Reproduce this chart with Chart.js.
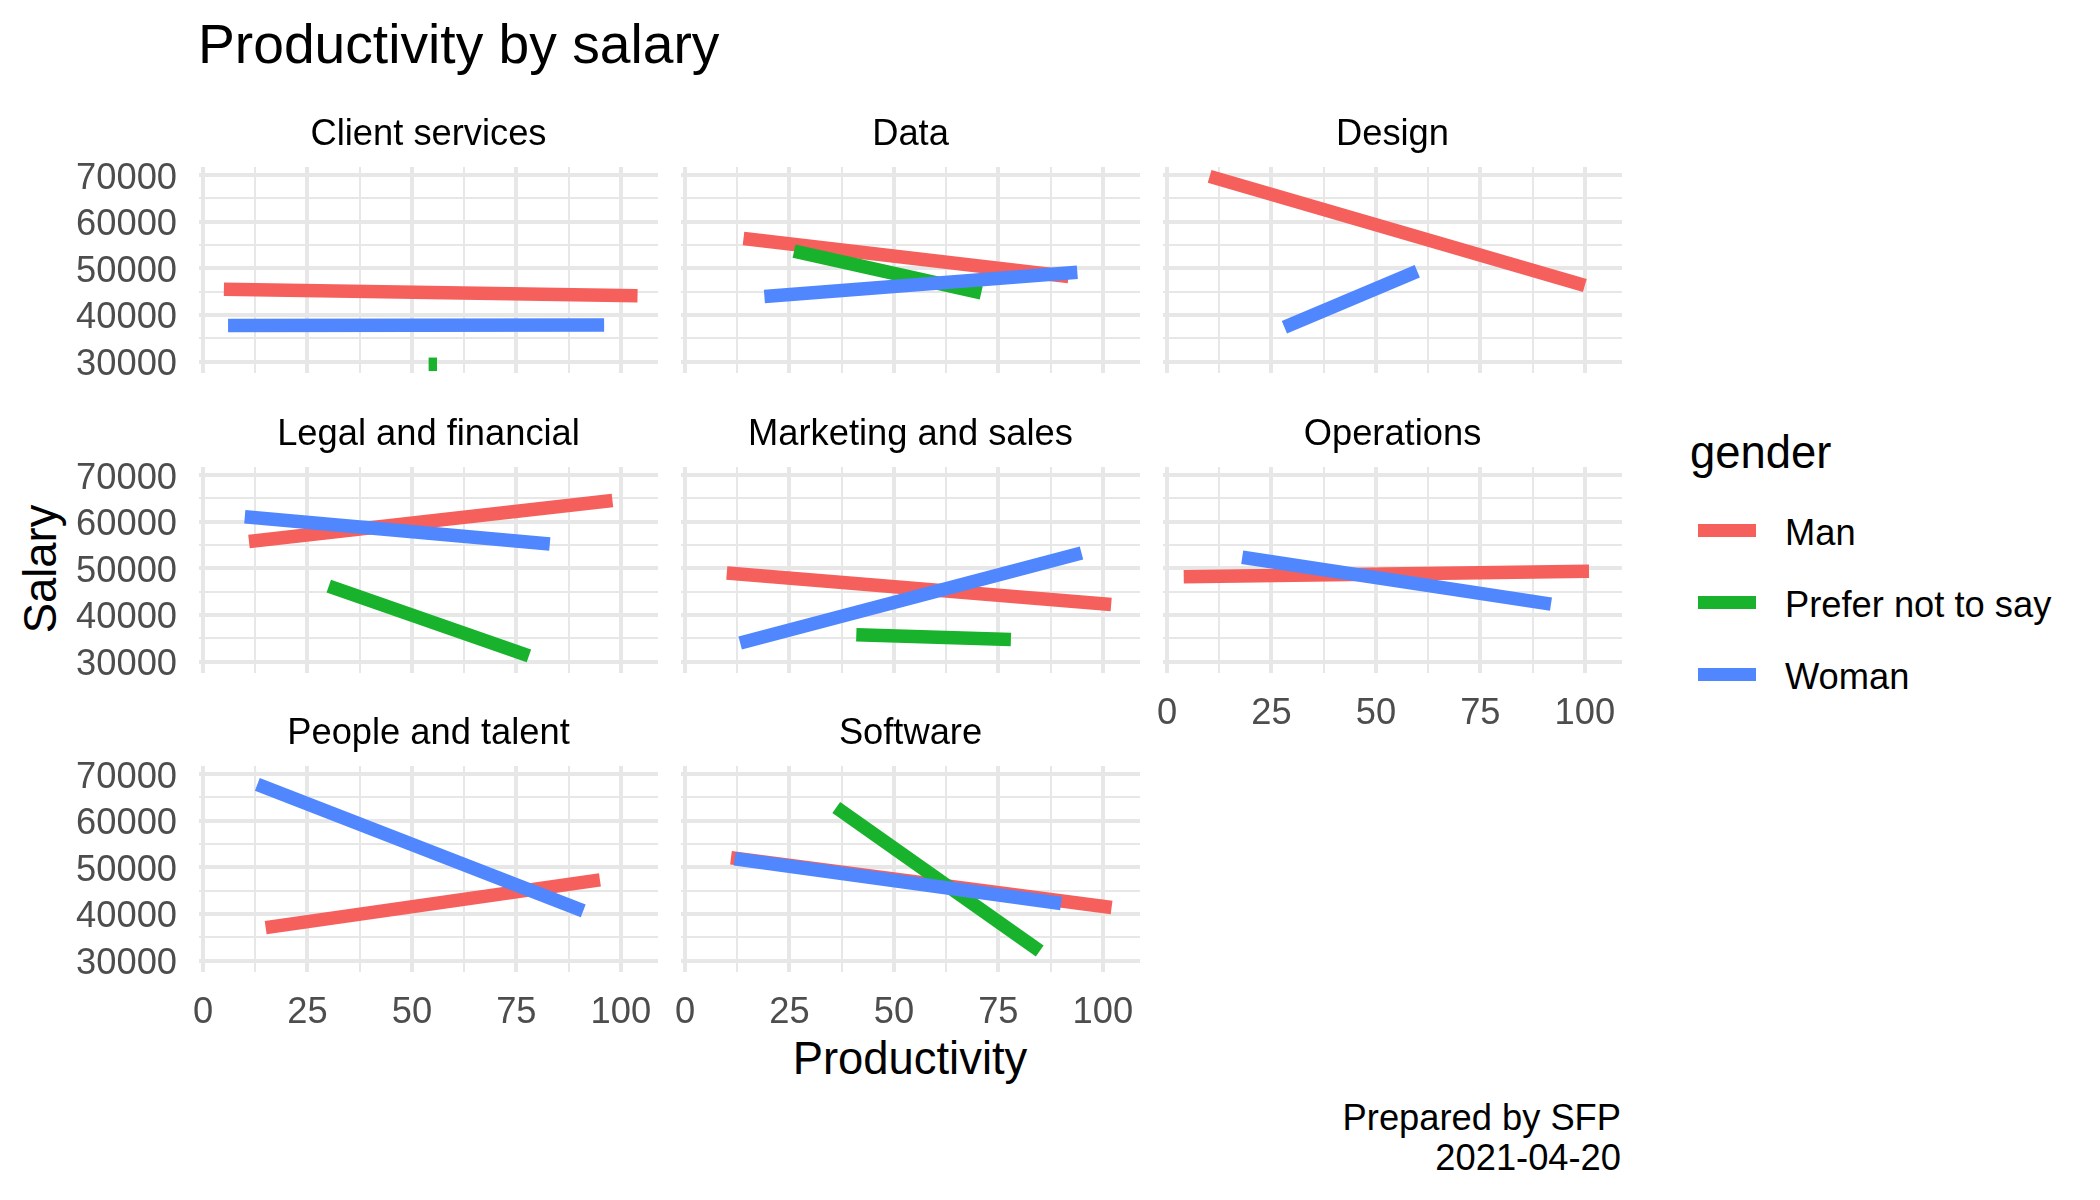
<!DOCTYPE html>
<html>
<head>
<meta charset="utf-8">
<title>Productivity by salary</title>
<script src="https://cdn.jsdelivr.net/npm/chart.js@4"></script>
<style>
  html, body { margin: 0; padding: 0; background: #fff; }
  body { position: relative; width: 2100px; height: 1200px; overflow: hidden; font-family: "Liberation Sans", Arial, sans-serif; }
  canvas { position: absolute; }
  .txt { position: absolute; line-height: 0; white-space: nowrap; color: #000; }
  .swatch { position: absolute; width: 58px; height: 13px; }
</style>
</head>
<body>
<script>
const departments = ['Client services', 'Data', 'Design', 'Legal and financial', 'Marketing and sales', 'Operations', 'People and talent', 'Software'];
const genders = ['Man', 'Prefer not to say', 'Woman'];
const genderColors = ['#F5605C', '#19B22D', '#5087FF'];

// line ends per department, null = no line for that group
const manProductivity = [[5, 104], [14, 91.8], [10.2, 100], [11, 98], [10, 102], [4, 101], [15, 95], [11, 102.1]];
const manSalary = [[45530, 44100], [56400, 48250], [69710, 46320], [55740, 64550], [49000, 42260], [48210, 49360], [37080, 47320], [52040, 41380]];
const otherProductivity = [[54, 56], [26.1, 70.9], null, [30.1, 78], [41, 78], null, null, [36.2, 84.9]];
const otherSalary = [[29430, 29430], [53690, 44740], null, [46200, 31220], [35740, 34730], null, null, [62840, 32080]];
const womanProductivity = [[6, 96], [19, 93.9], [28.1, 59.9], [10, 83], [13.2, 94.9], [18, 91.9], [13, 91], [11.9, 90]];
const womanSalary = [[37730, 37870], [43950, 49180], [37370, 49390], [61040, 55230], [34010, 53300], [52370, 42330], [67780, 40660], [51830, 42240]];

const xLabels = [0, 25, 50, 75, 100];
const yLabels = [30000, 40000, 50000, 60000, 70000];
const xGridValues = [0, 12.5, 25, 37.5, 50, 62.5, 75, 87.5, 100];
const yGridValues = [30000, 35000, 40000, 45000, 50000, 55000, 60000, 65000, 70000];

const FONT = '"Liberation Sans", Arial, sans-serif';
const SMALL = 36.3, MEDIUM = 45.4, LARGE = 55.2;
const GRID = '#E7E7E7', TICK_TEXT = '#4D4D4D';

const panelLefts = [199, 681, 1163];
const panelTops = [167, 467, 766];
const PANEL_W = 459, PANEL_H = 206;
const LEFT_W = 130, TITLE_H = 57, BOTTOM_H = 60;
const Y_LABEL_SHIFT = 3.5;

function points(xs, ys) {
  return xs.map((x, i) => ({ x: x, y: ys[i] }));
}

function makeDatasets(i) {
  const sets = [
    [manProductivity[i], manSalary[i]],
    [otherProductivity[i], otherSalary[i]],
    [womanProductivity[i], womanSalary[i]]
  ];
  const out = [];
  sets.forEach((s, g) => {
    if (!s[0]) return;
    out.push({
      label: genders[g],
      data: points(s[0], s[1]),
      borderColor: genderColors[g],
      borderWidth: 13.5,
      borderCapStyle: 'butt',
      pointRadius: 0,
      order: 3 - g
    });
  });
  return out;
}

function drawPanel(i) {
  const col = i % 3;
  const row = Math.floor(i / 3);
  const showX = i >= 5;
  const showY = col === 0;

  const canvas = document.createElement('canvas');
  canvas.width = LEFT_W + PANEL_W + 10;
  canvas.height = TITLE_H + PANEL_H + BOTTOM_H;
  canvas.style.left = (panelLefts[col] - LEFT_W) + 'px';
  canvas.style.top = (panelTops[row] - TITLE_H) + 'px';
  document.body.appendChild(canvas);

  new Chart(canvas.getContext('2d'), {
    type: 'line',
    data: { datasets: makeDatasets(i) },
    options: {
      responsive: false,
      animation: false,
      devicePixelRatio: 1,
      layout: { autoPadding: false, padding: { right: 10 } },
      plugins: {
        legend: { display: false },
        tooltip: { enabled: false },
        title: {
          display: true,
          text: departments[i],
          color: '#000',
          fullSize: false,
          font: { family: FONT, size: SMALL, weight: 'normal', lineHeight: 1.2 },
          padding: { top: 3, bottom: TITLE_H - 3 - SMALL * 1.2 }
        }
      },
      scales: {
        x: {
          type: 'linear',
          min: -0.96,
          max: 108.9,
          afterBuildTicks: s => { s.ticks = xGridValues.map(v => ({ value: v })); },
          afterFit: s => {
            s.height = BOTTOM_H;
            s.paddingLeft = 0;
            s.paddingRight = 0;
          },
          border: { display: false },
          grid: {
            color: GRID,
            drawTicks: false,
            lineWidth: c => (xLabels.includes(c.tick.value) ? 4 : 2)
          },
          ticks: {
            display: showX,
            autoSkip: false,
            maxRotation: 0,
            minRotation: 0,
            padding: 19,
            color: TICK_TEXT,
            font: { family: FONT, size: SMALL },
            callback: v => (xLabels.includes(v) ? String(v) : '')
          }
        },
        y: {
          type: 'linear',
          min: 27567,
          max: 71717,
          afterBuildTicks: s => { s.ticks = yGridValues.map(v => ({ value: v })); },
          afterFit: s => {
            s.width = LEFT_W;
            s.paddingTop = 0;
            s.paddingBottom = 0;
          },
          border: { display: false },
          grid: {
            color: GRID,
            drawTicks: false,
            lineWidth: c => (yLabels.includes(c.tick.value) ? 4 : 2)
          },
          ticks: {
            display: showY,
            autoSkip: false,
            padding: 22,
            color: TICK_TEXT,
            // empty first line + short line height nudges the labels down a bit
            font: { family: FONT, size: SMALL, lineHeight: Y_LABEL_SHIFT * 2 / SMALL },
            callback: v => (yLabels.includes(v) ? ['', String(v)] : '')
          }
        }
      }
    }
  });
}

// text placed by its baseline
function addText(text, x, baseline, size, align) {
  const el = document.createElement('div');
  el.className = 'txt';
  el.textContent = text;
  el.style.fontSize = size + 'px';
  el.style.top = (baseline - 0.3465 * size) + 'px';
  el.style.left = x + 'px';
  if (align === 'right') el.style.transform = 'translateX(-100%)';
  if (align === 'center') el.style.transform = 'translateX(-50%)';
  document.body.appendChild(el);
  return el;
}

departments.forEach((d, i) => drawPanel(i));

addText('Productivity by salary', 198, 63, LARGE);
addText('Productivity', 910, 1074.5, MEDIUM, 'center');
const yTitle = addText('Salary', 40.5, 585, MEDIUM, 'center');
yTitle.style.transformOrigin = '0 0';
yTitle.style.transform = 'rotate(-90deg) translateX(-50%)';

addText('gender', 1690, 469, MEDIUM);
genders.forEach((g, i) => {
  const top = 524 + i * 72;
  const sw = document.createElement('div');
  sw.className = 'swatch';
  sw.style.left = '1698px';
  sw.style.top = top + 'px';
  sw.style.background = genderColors[i];
  document.body.appendChild(sw);
  addText(g, 1785, top + 21.7, SMALL);
});

addText('Prepared by SFP', 1621, 1131, SMALL, 'right');
addText('2021-04-20', 1621, 1171, SMALL, 'right');
</script>
</body>
</html>
